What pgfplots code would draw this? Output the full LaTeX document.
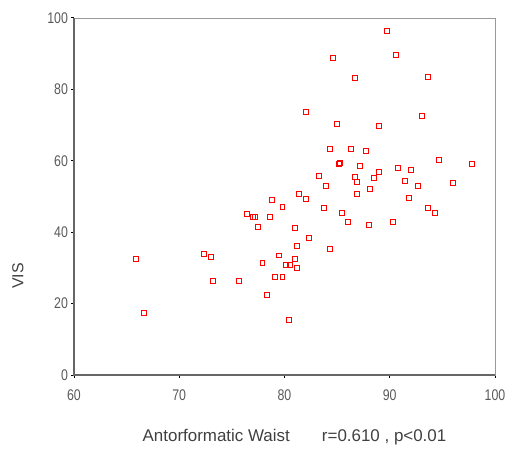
\documentclass[border=0pt]{standalone}
\usepackage{pgfplots}
\pgfplotsset{compat=1.18}
\usepackage{fontspec}
\setmainfont{Liberation Sans}
\newfontfamily\narrowfont[FakeStretch=0.8]{Liberation Sans}
\pgfplotstableread{
x y
89.7 96.4
90.6 89.6
84.6 88.9
86.7 83.2
93.6 83.5
82.0 73.8
93.1 72.7
85.0 70.3
89.0 69.7
84.3 63.2
86.3 63.2
87.7 62.9
94.7 60.3
97.8 59.2
85.2 59.1
85.3 59.3
87.2 58.5
90.8 58.1
92.0 57.5
89.0 56.8
83.3 55.8
86.7 55.5
88.5 55.1
86.9 54.1
91.4 54.5
83.9 53.0
92.7 53.0
96.0 53.8
88.1 52.1
81.4 50.7
86.9 50.7
78.8 49.1
82.0 49.4
91.8 49.7
79.8 47.0
83.7 46.7
93.6 46.7
94.3 45.4
85.5 45.4
76.4 45.0
77.0 44.2
77.2 44.2
78.6 44.4
86.0 43.0
90.3 43.0
77.5 41.6
88.0 42.0
81.0 41.3
82.3 38.3
81.2 36.2
84.3 35.2
65.9 32.4
72.3 33.8
73.0 33.2
79.5 33.5
81.0 32.5
77.9 31.5
80.1 30.9
80.5 30.9
81.2 29.9
79.1 27.4
79.8 27.4
73.2 26.4
75.7 26.4
78.3 22.4
66.6 17.4
80.4 15.3
}\datatable
\begin{document}
\begin{tikzpicture}
\begin{axis}[
  scale only axis, width=421bp, height=357bp,
  xmin=60, xmax=100, ymin=0, ymax=100,
  xtick={60,70,...,100}, ytick={0,20,...,100},
  axis line style={draw=black!40, line width=0.9pt},
  tick align=outside, tick pos=left, major tick length=2.5bp,
  tick style={black, line width=1pt},
  ticklabel style={font=\narrowfont\fontsize{15.5}{17}\selectfont, text=black!65},
  /pgf/number format/assume math mode=true,
  xticklabel style={yshift=-9bp},
  yticklabel style={xshift=0bp},
  xlabel={Antorformatic Waist\hspace{1.9em}r=0.610 , p<0.01},
  xlabel style={at={(rel axis cs:0.5,0)}, anchor=center, yshift=-62bp, xshift=10bp,
    font=\fontsize{17}{19}\selectfont, text=black!75},
  ylabel={VIS},
  ylabel style={at={(rel axis cs:0,0.277)}, anchor=center, yshift=56bp,
    font=\fontsize{16}{18}\selectfont, text=black!75},
  clip=false,
]
\draw[black!60, line width=1.2pt] (rel axis cs:0,1) -- (rel axis cs:0,0) -- (rel axis cs:1,0);
\addplot[only marks, mark=square, mark size=2.5pt, red, mark options={line width=0.8pt}] table[x=x,y=y] {\datatable};
\end{axis}
\path (current axis.south west) ++(-74bp,-80bp);
\path (current axis.north east) ++(20bp,18bp);
\end{tikzpicture}
\end{document}
